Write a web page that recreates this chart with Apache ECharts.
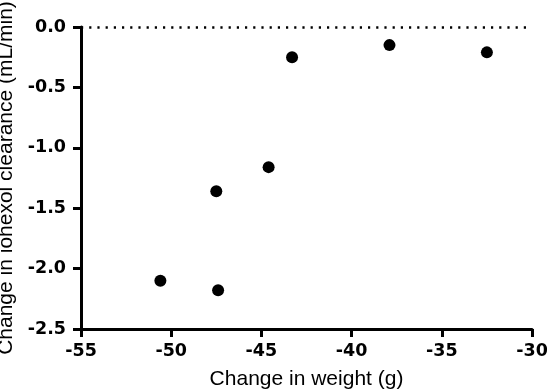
<!DOCTYPE html>
<html>
<head>
<meta charset="utf-8">
<script src="https://cdn.jsdelivr.net/npm/echarts@6/dist/echarts.min.js"></script>
<style>html,body{margin:0;padding:0;background:#fff;}#c{width:547px;height:389px;}</style>
</head>
<body>
<div id="c"></div>
<script>
const weightChange = [-43.3, -37.9, -32.5, -44.6, -47.5, -50.6, -47.4];
const clearanceChange = [-0.25, -0.15, -0.21, -1.16, -1.36, -2.10, -2.18];
const xTitle = 'Change in weight (g)';
const yTitle = 'Change in iohexol clearance (mL/min)';

const points = weightChange.map((x, i) => [x, clearanceChange[i]]);
const chart = echarts.init(document.getElementById('c'), null, {renderer: 'canvas'});
const titleFont = '"Liberation Sans", Arial, Helvetica, sans-serif';
const tickFont = '"DejaVu Sans", "Liberation Sans", Arial, sans-serif';
chart.setOption({
  animation: false,
  backgroundColor: '#fff',
  grid: {left: 81, right: 15, top: 27, bottom: 60, containLabel: false, outerBoundsMode: 'none'},
  xAxis: {
    type: 'value', min: -55, max: -30, interval: 5,
    name: xTitle, nameLocation: 'middle', nameGap: 40,
    nameTextStyle: {fontFamily: titleFont, fontSize: 21, color: '#000'},
    axisLine: {show: true, onZero: false, lineStyle: {color: '#000', width: 3}},
    axisTick: {show: true, length: 8, inside: false, lineStyle: {color: '#000', width: 3}},
    axisLabel: {fontFamily: tickFont, fontSize: 17.5, fontWeight: 'bold', color: '#000', margin: 13},
    splitLine: {show: false}
  },
  yAxis: {
    type: 'value', min: -2.5, max: 0, interval: 0.5,
    name: yTitle, nameLocation: 'middle', nameGap: 60,
    nameTextStyle: {fontFamily: titleFont, fontSize: 21, color: '#000'},
    axisLine: {show: true, onZero: false, lineStyle: {color: '#000', width: 3}},
    axisTick: {show: true, length: 8, inside: false, lineStyle: {color: '#000', width: 3}},
    axisLabel: {fontFamily: tickFont, fontSize: 17.5, fontWeight: 'bold', color: '#000', margin: 15,
      formatter: v => v.toFixed(1)},
    splitLine: {show: false}
  },
  series: [{
    type: 'scatter',
    data: points,
    symbol: 'circle',
    symbolSize: 12,
    itemStyle: {color: '#000', opacity: 1},
    markLine: {
      silent: true,
      symbol: ['none', 'none'],
      label: {show: false},
      lineStyle: {color: '#000', width: 2.5, type: [2.2, 6], opacity: 1},
      data: [{yAxis: 0}]
    }
  }]
});
</script>
</body>
</html>
